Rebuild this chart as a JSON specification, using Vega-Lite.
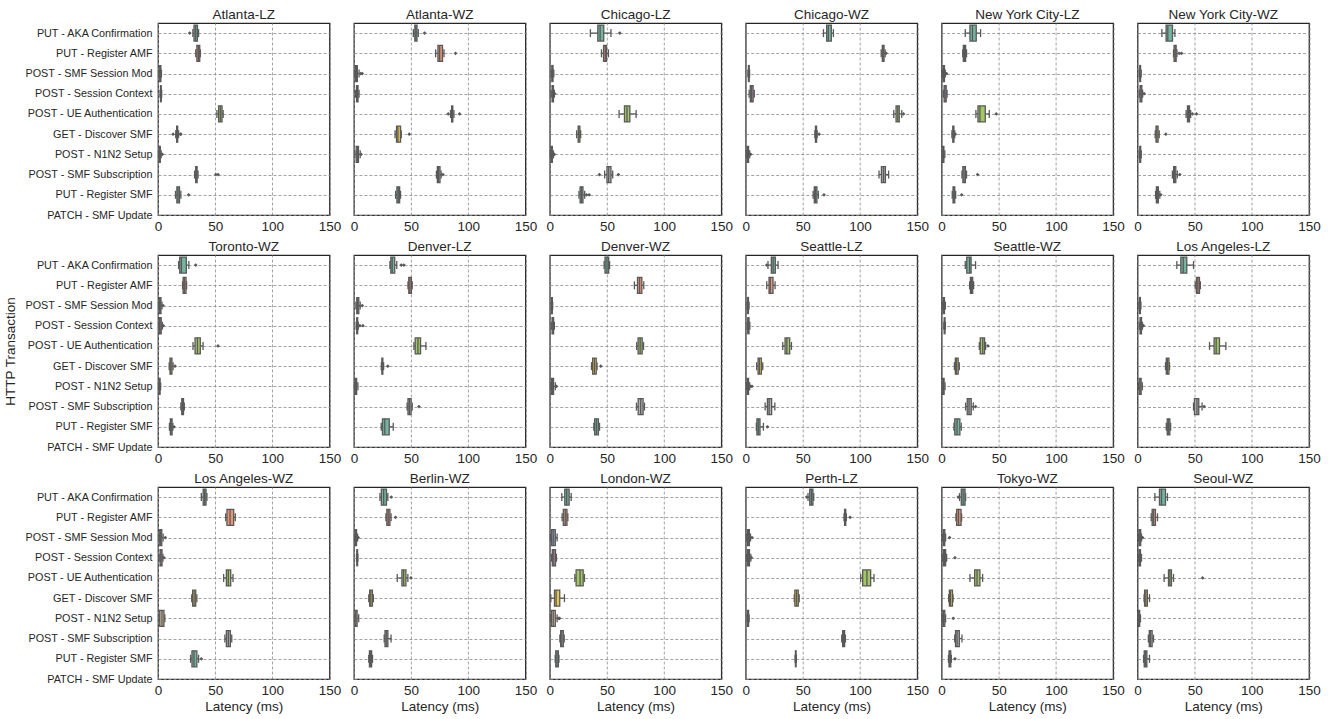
{
"$schema": "https://vega.github.io/schema/vega-lite/v6.json",
"padding": {"left": 3, "top": 7, "right": 5, "bottom": 5},
"spacing": 6,
"config": {
 "font": "Liberation Sans",
 "view": {"stroke": "#262626", "strokeWidth": 1.25},
 "axis": {"labelColor": "#262626", "titleColor": "#262626", "grid": true, "gridColor": "#8c8c8c", "gridDash": [3, 2], "gridWidth": 0.8, "ticks": false, "domain": false, "labelFont": "Liberation Sans", "titleFont": "Liberation Sans", "titleFontWeight": "normal", "titleFontSize": 13.5},
 "axisX": {"labelFontSize": 13.5, "labelFlush": false, "labelOverlap": false, "labelPadding": 3, "titlePadding": 3},
 "axisY": {"labelFontSize": 10.8, "labelPadding": 5, "labelLimit": 0, "titlePadding": 7},
 "header": {"labelFontSize": 13.5, "labelColor": "#262626", "labelFont": "Liberation Sans", "labelPadding": 1}
},
"datasets": {"boxes": [
{"p":"Atlanta-LZ","t":"PUT - AKA Confirmation","lo":30.5,"q1":31.5,"md":33,"q3":34.5,"hi":35.5,"out":[27.7]},
{"p":"Atlanta-LZ","t":"PUT - Register AMF","lo":33,"q1":34,"md":35.3,"q3":36.5,"hi":37},
{"p":"Atlanta-LZ","t":"POST - SMF Session Mod","lo":0.8,"q1":1.5,"md":2,"q3":2.5,"hi":3},
{"p":"Atlanta-LZ","t":"POST - Session Context","lo":1.8,"q1":2.2,"md":2.5,"q3":2.8,"hi":3.2},
{"p":"Atlanta-LZ","t":"POST - UE Authentication","lo":51.5,"q1":53,"md":54.5,"q3":56,"hi":57},
{"p":"Atlanta-LZ","t":"GET - Discover SMF","lo":15.5,"q1":16.3,"md":16.7,"q3":17.2,"hi":18,"out":[13.2,19.5,20]},
{"p":"Atlanta-LZ","t":"POST - N1N2 Setup","lo":0.5,"q1":1,"md":1.5,"q3":2,"hi":2.8,"out":[3.8]},
{"p":"Atlanta-LZ","t":"POST - SMF Subscription","lo":32,"q1":33,"md":33.6,"q3":34.2,"hi":35,"out":[50.6,52.6]},
{"p":"Atlanta-LZ","t":"PUT - Register SMF","lo":15.3,"q1":16.5,"md":17.5,"q3":18.8,"hi":20,"out":[26.8]},
{"p":"Atlanta-WZ","t":"PUT - AKA Confirmation","lo":52,"q1":53.3,"md":54.2,"q3":55.2,"hi":56.3,"out":[61.8]},
{"p":"Atlanta-WZ","t":"PUT - Register AMF","lo":71.5,"q1":73.5,"md":75,"q3":77.5,"hi":78.8,"out":[88.9]},
{"p":"Atlanta-WZ","t":"POST - SMF Session Mod","lo":0.8,"q1":1.5,"md":2.2,"q3":3,"hi":4.5,"out":[6,7.3]},
{"p":"Atlanta-WZ","t":"POST - Session Context","lo":1.5,"q1":2.3,"md":3,"q3":3.6,"hi":4.5},
{"p":"Atlanta-WZ","t":"POST - UE Authentication","lo":84.5,"q1":85.5,"md":86,"q3":86.5,"hi":87.5,"out":[82.5,92.4]},
{"p":"Atlanta-WZ","t":"GET - Discover SMF","lo":36,"q1":37.3,"md":38.5,"q3":40.8,"hi":41.4,"out":[48.4]},
{"p":"Atlanta-WZ","t":"POST - N1N2 Setup","lo":0.8,"q1":2,"md":3,"q3":4,"hi":5.5,"out":[6.3]},
{"p":"Atlanta-WZ","t":"POST - SMF Subscription","lo":72.2,"q1":73,"md":74,"q3":75.3,"hi":76.3,"out":[77.9]},
{"p":"Atlanta-WZ","t":"PUT - Register SMF","lo":36.5,"q1":37.6,"md":38.8,"q3":40,"hi":40.8},
{"p":"Chicago-LZ","t":"PUT - AKA Confirmation","lo":35.5,"q1":42,"md":44,"q3":47.2,"hi":53.5,"out":[61.2]},
{"p":"Chicago-LZ","t":"PUT - Register AMF","lo":45.2,"q1":47,"md":48.5,"q3":49.6,"hi":51.3},
{"p":"Chicago-LZ","t":"POST - SMF Session Mod","lo":1.2,"q1":1.8,"md":2.2,"q3":2.8,"hi":3.5},
{"p":"Chicago-LZ","t":"POST - Session Context","lo":1.2,"q1":2,"md":2.5,"q3":3.2,"hi":4,"out":[4.3]},
{"p":"Chicago-LZ","t":"POST - UE Authentication","lo":60.6,"q1":65.3,"md":67.5,"q3":70,"hi":75.5},
{"p":"Chicago-LZ","t":"GET - Discover SMF","lo":23.5,"q1":24.8,"md":25.5,"q3":26.3,"hi":27},
{"p":"Chicago-LZ","t":"POST - N1N2 Setup","lo":0.5,"q1":1,"md":1.6,"q3":2.2,"hi":3.2,"out":[4]},
{"p":"Chicago-LZ","t":"POST - SMF Subscription","lo":48,"q1":50,"md":51.5,"q3":53.5,"hi":55,"out":[43.4,60]},
{"p":"Chicago-LZ","t":"PUT - Register SMF","lo":25.5,"q1":26.5,"md":27.8,"q3":29,"hi":30.5,"out":[32,34.4]},
{"p":"Chicago-WZ","t":"PUT - AKA Confirmation","lo":68,"q1":70.8,"md":72.3,"q3":74.9,"hi":76.7},
{"p":"Chicago-WZ","t":"PUT - Register AMF","lo":118.5,"q1":119.5,"md":120.2,"q3":121,"hi":122,"out":[122.8]},
{"p":"Chicago-WZ","t":"POST - SMF Session Mod","lo":2,"q1":2.4,"md":2.7,"q3":3,"hi":3.4},
{"p":"Chicago-WZ","t":"POST - Session Context","lo":3,"q1":4,"md":5.2,"q3":6.5,"hi":7.5},
{"p":"Chicago-WZ","t":"POST - UE Authentication","lo":129.5,"q1":131.5,"md":133,"q3":134.3,"hi":136.5,"out":[138]},
{"p":"Chicago-WZ","t":"GET - Discover SMF","lo":60.5,"q1":61,"md":61.5,"q3":62,"hi":62.5,"out":[64.2]},
{"p":"Chicago-WZ","t":"POST - N1N2 Setup","lo":0.5,"q1":1.2,"md":1.8,"q3":2.5,"hi":3.5,"out":[4.4]},
{"p":"Chicago-WZ","t":"POST - SMF Subscription","lo":116.6,"q1":118.7,"md":120.5,"q3":122.2,"hi":125},
{"p":"Chicago-WZ","t":"PUT - Register SMF","lo":59,"q1":60,"md":61,"q3":62.3,"hi":63.5,"out":[68.5]},
{"p":"New York City-LZ","t":"PUT - AKA Confirmation","lo":20.7,"q1":24.8,"md":27,"q3":30.3,"hi":34.1},
{"p":"New York City-LZ","t":"PUT - Register AMF","lo":18.5,"q1":19,"md":20,"q3":21,"hi":21.8},
{"p":"New York City-LZ","t":"POST - SMF Session Mod","lo":0.8,"q1":1.3,"md":1.8,"q3":2.5,"hi":3.2,"out":[4.3]},
{"p":"New York City-LZ","t":"POST - Session Context","lo":1.5,"q1":2.2,"md":3,"q3":4,"hi":4.8},
{"p":"New York City-LZ","t":"POST - UE Authentication","lo":30,"q1":31.8,"md":33.5,"q3":38.2,"hi":41.7,"out":[47.8]},
{"p":"New York City-LZ","t":"GET - Discover SMF","lo":9,"q1":9.8,"md":10.2,"q3":10.8,"hi":11.5,"out":[12]},
{"p":"New York City-LZ","t":"POST - N1N2 Setup","lo":0.6,"q1":1,"md":1.5,"q3":2,"hi":2.8},
{"p":"New York City-LZ","t":"POST - SMF Subscription","lo":17.8,"q1":18.6,"md":19.6,"q3":20.8,"hi":21.8,"out":[31.5]},
{"p":"New York City-LZ","t":"PUT - Register SMF","lo":9.3,"q1":10,"md":10.8,"q3":11.5,"hi":12.3,"out":[17.5]},
{"p":"New York City-WZ","t":"PUT - AKA Confirmation","lo":21.3,"q1":25,"md":26.5,"q3":30.6,"hi":32.7},
{"p":"New York City-WZ","t":"PUT - Register AMF","lo":31.5,"q1":32,"md":33,"q3":33.8,"hi":34.5,"out":[36.4,38.5]},
{"p":"New York City-WZ","t":"POST - SMF Session Mod","lo":1.5,"q1":2,"md":2.3,"q3":2.7,"hi":3.2},
{"p":"New York City-WZ","t":"POST - Session Context","lo":1.5,"q1":2.2,"md":3,"q3":3.8,"hi":4.5,"out":[5.8]},
{"p":"New York City-WZ","t":"POST - UE Authentication","lo":42.5,"q1":43.7,"md":44.5,"q3":45.5,"hi":46.5,"out":[48,51.6]},
{"p":"New York City-WZ","t":"GET - Discover SMF","lo":15.5,"q1":16.2,"md":17,"q3":18,"hi":19,"out":[24.8]},
{"p":"New York City-WZ","t":"POST - N1N2 Setup","lo":1.5,"q1":2,"md":2.4,"q3":2.8,"hi":3.3},
{"p":"New York City-WZ","t":"POST - SMF Subscription","lo":30.5,"q1":31.6,"md":32.5,"q3":33.5,"hi":34.8,"out":[37]},
{"p":"New York City-WZ","t":"PUT - Register SMF","lo":15.8,"q1":16.5,"md":17.3,"q3":18.2,"hi":19.5,"out":[20.4]},
{"p":"Toronto-WZ","t":"PUT - AKA Confirmation","lo":18,"q1":19,"md":20.5,"q3":24.8,"hi":27,"out":[33]},
{"p":"Toronto-WZ","t":"PUT - Register AMF","lo":21.5,"q1":22,"md":23,"q3":24.5,"hi":25},
{"p":"Toronto-WZ","t":"POST - SMF Session Mod","lo":0.6,"q1":1.2,"md":1.8,"q3":2.6,"hi":3.5,"out":[4.4]},
{"p":"Toronto-WZ","t":"POST - Session Context","lo":0.6,"q1":1.2,"md":1.8,"q3":2.8,"hi":3.8,"out":[4.6]},
{"p":"Toronto-WZ","t":"POST - UE Authentication","lo":30.6,"q1":32.4,"md":34.5,"q3":37,"hi":39.4,"out":[52.5]},
{"p":"Toronto-WZ","t":"GET - Discover SMF","lo":9.8,"q1":10.5,"md":11.2,"q3":12.2,"hi":13.2,"out":[14.9]},
{"p":"Toronto-WZ","t":"POST - N1N2 Setup","lo":0.5,"q1":1,"md":1.3,"q3":1.8,"hi":2.3},
{"p":"Toronto-WZ","t":"POST - SMF Subscription","lo":20,"q1":20.8,"md":21.5,"q3":22.3,"hi":23},
{"p":"Toronto-WZ","t":"PUT - Register SMF","lo":10,"q1":10.8,"md":11.5,"q3":12.3,"hi":13,"out":[14]},
{"p":"Denver-LZ","t":"PUT - AKA Confirmation","lo":31.5,"q1":32.3,"md":33.5,"q3":35.7,"hi":37.5,"out":[41.4,43.7]},
{"p":"Denver-LZ","t":"PUT - Register AMF","lo":47.3,"q1":48,"md":49,"q3":50.3,"hi":51},
{"p":"Denver-LZ","t":"POST - SMF Session Mod","lo":1.8,"q1":2.5,"md":3.3,"q3":4.3,"hi":5.5,"out":[7.3]},
{"p":"Denver-LZ","t":"POST - Session Context","lo":2,"q1":2.5,"md":2.9,"q3":3.3,"hi":3.8,"out":[5.2,7.9]},
{"p":"Denver-LZ","t":"POST - UE Authentication","lo":52.5,"q1":53.6,"md":56,"q3":58.3,"hi":63},
{"p":"Denver-LZ","t":"GET - Discover SMF","lo":24,"q1":24.5,"md":24.9,"q3":25.3,"hi":26,"out":[29.7]},
{"p":"Denver-LZ","t":"POST - N1N2 Setup","lo":0.5,"q1":1,"md":1.6,"q3":2.4,"hi":3.5},
{"p":"Denver-LZ","t":"POST - SMF Subscription","lo":46.5,"q1":47.3,"md":48.5,"q3":50,"hi":51,"out":[56.9]},
{"p":"Denver-LZ","t":"PUT - Register SMF","lo":23.9,"q1":25,"md":27,"q3":30.9,"hi":34.4},
{"p":"Denver-WZ","t":"PUT - AKA Confirmation","lo":47.5,"q1":48.3,"md":50,"q3":51.5,"hi":52.3},
{"p":"Denver-WZ","t":"PUT - Register AMF","lo":74,"q1":76.7,"md":78.5,"q3":80.5,"hi":82.2},
{"p":"Denver-WZ","t":"POST - SMF Session Mod","lo":1.3,"q1":1.6,"md":1.9,"q3":2.2,"hi":2.5},
{"p":"Denver-WZ","t":"POST - Session Context","lo":1.3,"q1":2,"md":2.7,"q3":3.3,"hi":4},
{"p":"Denver-WZ","t":"POST - UE Authentication","lo":76,"q1":77.2,"md":79,"q3":80.8,"hi":82},
{"p":"Denver-WZ","t":"GET - Discover SMF","lo":36.5,"q1":37.5,"md":39,"q3":40.6,"hi":41.3,"out":[44.6]},
{"p":"Denver-WZ","t":"POST - N1N2 Setup","lo":0.8,"q1":1.5,"md":2.3,"q3":3.3,"hi":4.8,"out":[5.8]},
{"p":"Denver-WZ","t":"POST - SMF Subscription","lo":75.8,"q1":77.3,"md":79.5,"q3":81.6,"hi":82.8},
{"p":"Denver-WZ","t":"PUT - Register SMF","lo":38.5,"q1":39.2,"md":40.8,"q3":42.5,"hi":43.5},
{"p":"Seattle-LZ","t":"PUT - AKA Confirmation","lo":19.5,"q1":22.4,"md":24,"q3":25.9,"hi":28.3,"out":[18.4]},
{"p":"Seattle-LZ","t":"PUT - Register AMF","lo":18.4,"q1":20.4,"md":21.5,"q3":23.9,"hi":25.7},
{"p":"Seattle-LZ","t":"POST - SMF Session Mod","lo":1.2,"q1":1.6,"md":2,"q3":2.4,"hi":2.9},
{"p":"Seattle-LZ","t":"POST - Session Context","lo":1.3,"q1":1.8,"md":2.3,"q3":2.9,"hi":3.6},
{"p":"Seattle-LZ","t":"POST - UE Authentication","lo":32.4,"q1":34.4,"md":36,"q3":38.5,"hi":40},
{"p":"Seattle-LZ","t":"GET - Discover SMF","lo":9.6,"q1":10.8,"md":12,"q3":13.7,"hi":14.9},
{"p":"Seattle-LZ","t":"POST - N1N2 Setup","lo":0.8,"q1":1.3,"md":1.8,"q3":2.5,"hi":3.5,"out":[4.5,5.5]},
{"p":"Seattle-LZ","t":"POST - SMF Subscription","lo":17,"q1":19,"md":20.5,"q3":22.7,"hi":25.5},
{"p":"Seattle-LZ","t":"PUT - Register SMF","lo":9.3,"q1":9.8,"md":11,"q3":12.5,"hi":15.5,"out":[19]},
{"p":"Seattle-WZ","t":"PUT - AKA Confirmation","lo":20.7,"q1":22,"md":24.5,"q3":25.8,"hi":29.7},
{"p":"Seattle-WZ","t":"PUT - Register AMF","lo":24.5,"q1":25.2,"md":26.2,"q3":27.2,"hi":28},
{"p":"Seattle-WZ","t":"POST - SMF Session Mod","lo":0.8,"q1":1.3,"md":1.8,"q3":2.5,"hi":3.3},
{"p":"Seattle-WZ","t":"POST - Session Context","lo":2,"q1":2.3,"md":2.6,"q3":2.9,"hi":3.3},
{"p":"Seattle-WZ","t":"POST - UE Authentication","lo":33,"q1":33.8,"md":36,"q3":37.6,"hi":38.5,"out":[40.5]},
{"p":"Seattle-WZ","t":"GET - Discover SMF","lo":11.2,"q1":12,"md":13,"q3":14.5,"hi":15.5},
{"p":"Seattle-WZ","t":"POST - N1N2 Setup","lo":0.6,"q1":1,"md":1.5,"q3":2.2,"hi":3},
{"p":"Seattle-WZ","t":"POST - SMF Subscription","lo":21,"q1":22.4,"md":24,"q3":25.9,"hi":27.7,"out":[29.7]},
{"p":"Seattle-WZ","t":"PUT - Register SMF","lo":10.8,"q1":11.5,"md":13.5,"q3":16,"hi":17.2},
{"p":"Los Angeles-LZ","t":"PUT - AKA Confirmation","lo":34.4,"q1":37.9,"md":40,"q3":43.1,"hi":49},
{"p":"Los Angeles-LZ","t":"PUT - Register AMF","lo":50.5,"q1":51.6,"md":52.8,"q3":54.2,"hi":55},
{"p":"Los Angeles-LZ","t":"POST - SMF Session Mod","lo":1.3,"q1":1.7,"md":2.1,"q3":2.5,"hi":3},
{"p":"Los Angeles-LZ","t":"POST - Session Context","lo":1.5,"q1":2.2,"md":2.8,"q3":3.5,"hi":4.3,"out":[5.2]},
{"p":"Los Angeles-LZ","t":"POST - UE Authentication","lo":63,"q1":67,"md":68.8,"q3":71.7,"hi":77.3},
{"p":"Los Angeles-LZ","t":"GET - Discover SMF","lo":24.5,"q1":25.2,"md":26.2,"q3":27.5,"hi":28},
{"p":"Los Angeles-LZ","t":"POST - N1N2 Setup","lo":0.8,"q1":1.5,"md":2.3,"q3":3.2,"hi":4.2},
{"p":"Los Angeles-LZ","t":"POST - SMF Subscription","lo":49,"q1":49.8,"md":52,"q3":53.6,"hi":56.5,"out":[58.3]},
{"p":"Los Angeles-LZ","t":"PUT - Register SMF","lo":25.2,"q1":26,"md":27,"q3":28.3,"hi":29},
{"p":"Los Angeles-WZ","t":"PUT - AKA Confirmation","lo":37.9,"q1":39.5,"md":40.8,"q3":42,"hi":42.8},
{"p":"Los Angeles-WZ","t":"PUT - Register AMF","lo":59.2,"q1":60.3,"md":63,"q3":66.2,"hi":67.6},
{"p":"Los Angeles-WZ","t":"POST - SMF Session Mod","lo":0.8,"q1":1.5,"md":2.3,"q3":3.3,"hi":4.5,"out":[6.4]},
{"p":"Los Angeles-WZ","t":"POST - Session Context","lo":1,"q1":1.8,"md":2.6,"q3":3.5,"hi":4.3,"out":[5.2]},
{"p":"Los Angeles-WZ","t":"POST - UE Authentication","lo":57.4,"q1":59.8,"md":61.5,"q3":63.6,"hi":65.6},
{"p":"Los Angeles-WZ","t":"GET - Discover SMF","lo":29.5,"q1":30.3,"md":31.6,"q3":33,"hi":34},
{"p":"Los Angeles-WZ","t":"POST - N1N2 Setup","lo":1,"q1":1.5,"md":3.5,"q3":5.2,"hi":6},
{"p":"Los Angeles-WZ","t":"POST - SMF Subscription","lo":58.5,"q1":59.8,"md":61.5,"q3":63.3,"hi":64.5},
{"p":"Los Angeles-WZ","t":"PUT - Register SMF","lo":28.5,"q1":29.7,"md":31.5,"q3":34,"hi":35.5,"out":[37.9]},
{"p":"Berlin-WZ","t":"PUT - AKA Confirmation","lo":22.8,"q1":24,"md":26,"q3":28.5,"hi":29.7,"out":[32.7]},
{"p":"Berlin-WZ","t":"PUT - Register AMF","lo":28,"q1":28.8,"md":30,"q3":31.5,"hi":32.5,"out":[36.4]},
{"p":"Berlin-WZ","t":"POST - SMF Session Mod","lo":0.6,"q1":1,"md":1.6,"q3":2.3,"hi":3.2,"out":[3.8]},
{"p":"Berlin-WZ","t":"POST - Session Context","lo":2.3,"q1":2.6,"md":2.9,"q3":3.2,"hi":3.5},
{"p":"Berlin-WZ","t":"POST - UE Authentication","lo":37.9,"q1":42,"md":43.5,"q3":45.5,"hi":47.2,"out":[49.9]},
{"p":"Berlin-WZ","t":"GET - Discover SMF","lo":13,"q1":13.8,"md":14.8,"q3":16.2,"hi":17},
{"p":"Berlin-WZ","t":"POST - N1N2 Setup","lo":0.5,"q1":1,"md":1.8,"q3":2.8,"hi":4.2},
{"p":"Berlin-WZ","t":"POST - SMF Subscription","lo":26.5,"q1":27.2,"md":28.3,"q3":29.7,"hi":32.5},
{"p":"Berlin-WZ","t":"PUT - Register SMF","lo":13,"q1":13.6,"md":14.5,"q3":15.5,"hi":16.3},
{"p":"London-WZ","t":"PUT - AKA Confirmation","lo":10.5,"q1":13.1,"md":14.8,"q3":16.9,"hi":18.7},
{"p":"London-WZ","t":"PUT - Register AMF","lo":10.8,"q1":11.8,"md":13.5,"q3":15,"hi":15.8},
{"p":"London-WZ","t":"POST - SMF Session Mod","lo":0.6,"q1":1.5,"md":3,"q3":4.8,"hi":6.4},
{"p":"London-WZ","t":"POST - Session Context","lo":1.5,"q1":2.2,"md":3.5,"q3":5,"hi":5.8},
{"p":"London-WZ","t":"POST - UE Authentication","lo":21.9,"q1":23,"md":26.5,"q3":29.2,"hi":30.3},
{"p":"London-WZ","t":"GET - Discover SMF","lo":0.9,"q1":4.1,"md":5.5,"q3":8.7,"hi":12.8},
{"p":"London-WZ","t":"POST - N1N2 Setup","lo":0.6,"q1":1.5,"md":3,"q3":4.8,"hi":6.4,"out":[7.6,8.5]},
{"p":"London-WZ","t":"POST - SMF Subscription","lo":8.8,"q1":9.5,"md":10.5,"q3":11.8,"hi":12.6},
{"p":"London-WZ","t":"PUT - Register SMF","lo":4.7,"q1":5.2,"md":6.3,"q3":7.5,"hi":8},
{"p":"Perth-LZ","t":"PUT - AKA Confirmation","lo":54.5,"q1":56,"md":57.5,"q3":58.8,"hi":59.5,"out":[53.4]},
{"p":"Perth-LZ","t":"PUT - Register AMF","lo":86,"q1":86.5,"md":87,"q3":87.5,"hi":88,"out":[91.3]},
{"p":"Perth-LZ","t":"POST - SMF Session Mod","lo":0.8,"q1":1.5,"md":2.3,"q3":3.2,"hi":4.2,"out":[5.5]},
{"p":"Perth-LZ","t":"POST - Session Context","lo":0.8,"q1":1.5,"md":2.5,"q3":3.3,"hi":4.5,"out":[5]},
{"p":"Perth-LZ","t":"POST - UE Authentication","lo":100.6,"q1":102.3,"md":106,"q3":109.3,"hi":112.2},
{"p":"Perth-LZ","t":"GET - Discover SMF","lo":42.5,"q1":43,"md":44.5,"q3":46,"hi":46.8},
{"p":"Perth-LZ","t":"POST - N1N2 Setup","lo":1.2,"q1":1.6,"md":2,"q3":2.5,"hi":3},
{"p":"Perth-LZ","t":"POST - SMF Subscription","lo":84,"q1":84.8,"md":85.6,"q3":86.5,"hi":87.2},
{"p":"Perth-LZ","t":"PUT - Register SMF","lo":43.2,"q1":43.5,"md":43.7,"q3":44,"hi":44.3},
{"p":"Tokyo-WZ","t":"PUT - AKA Confirmation","lo":15.7,"q1":17.2,"md":18.8,"q3":20.5,"hi":21,"out":[14.6]},
{"p":"Tokyo-WZ","t":"PUT - Register AMF","lo":12.5,"q1":13.2,"md":14.8,"q3":17,"hi":17.5},
{"p":"Tokyo-WZ","t":"POST - SMF Session Mod","lo":1,"q1":1.5,"md":2,"q3":2.8,"hi":3.5,"out":[7]},
{"p":"Tokyo-WZ","t":"POST - Session Context","lo":1,"q1":1.6,"md":2.5,"q3":3.5,"hi":4.4,"out":[11.7]},
{"p":"Tokyo-WZ","t":"POST - UE Authentication","lo":24.8,"q1":28.9,"md":31,"q3":33.5,"hi":35.9},
{"p":"Tokyo-WZ","t":"GET - Discover SMF","lo":6.2,"q1":6.8,"md":7.8,"q3":9.5,"hi":10},
{"p":"Tokyo-WZ","t":"POST - N1N2 Setup","lo":0.8,"q1":1.2,"md":1.8,"q3":2.8,"hi":3.5,"out":[10.2]},
{"p":"Tokyo-WZ","t":"POST - SMF Subscription","lo":11.5,"q1":12.2,"md":13.5,"q3":15.5,"hi":17.8},
{"p":"Tokyo-WZ","t":"PUT - Register SMF","lo":6,"q1":6.5,"md":7.2,"q3":8,"hi":8.5,"out":[11.7]},
{"p":"Seoul-WZ","t":"PUT - AKA Confirmation","lo":15.2,"q1":19.2,"md":21,"q3":24.5,"hi":26.2},
{"p":"Seoul-WZ","t":"PUT - Register AMF","lo":12,"q1":12.8,"md":14,"q3":15.7,"hi":17.5},
{"p":"Seoul-WZ","t":"POST - SMF Session Mod","lo":0.8,"q1":1.3,"md":2,"q3":2.8,"hi":3.5,"out":[4.4]},
{"p":"Seoul-WZ","t":"POST - Session Context","lo":0.8,"q1":1.3,"md":1.9,"q3":2.6,"hi":3.5},
{"p":"Seoul-WZ","t":"POST - UE Authentication","lo":23.3,"q1":27.1,"md":28.3,"q3":29.7,"hi":31.5,"out":[56.9]},
{"p":"Seoul-WZ","t":"GET - Discover SMF","lo":5.8,"q1":6.2,"md":7.3,"q3":8.6,"hi":10.5},
{"p":"Seoul-WZ","t":"POST - N1N2 Setup","lo":0.5,"q1":0.9,"md":1.3,"q3":1.9,"hi":2.6},
{"p":"Seoul-WZ","t":"POST - SMF Subscription","lo":9.5,"q1":10.3,"md":11.3,"q3":12.8,"hi":14},
{"p":"Seoul-WZ","t":"PUT - Register SMF","lo":5.3,"q1":5.9,"md":7,"q3":8.2,"hi":10.5}
]},
"vconcat": [
{
 "data": {"name": "boxes"},
 "transform": [{"filter": {"field": "p", "oneOf": ["Atlanta-LZ","Atlanta-WZ","Chicago-LZ","Chicago-WZ","New York City-LZ","New York City-WZ"]}}],
 "facet": {"column": {"field": "p", "type": "nominal", "sort": ["Atlanta-LZ","Atlanta-WZ","Chicago-LZ","Chicago-WZ","New York City-LZ","New York City-WZ"], "header": {"title": null}}},
 "spacing": 21.9,
 "spec": {
  "width": 171.5, "height": 192,
  "encoding": {"y": {"field": "t", "type": "nominal", "scale": {"type": "point", "domain": ["PUT - AKA Confirmation","PUT - Register AMF","POST - SMF Session Mod","POST - Session Context","POST - UE Authentication","GET - Discover SMF","POST - N1N2 Setup","POST - SMF Subscription","PUT - Register SMF","PATCH - SMF Update"], "padding": 0.25, "align": 1}, "axis": {"title": "HTTP Transaction", "titleOpacity": 0}}},
  "layer": [
   {"mark": {"type": "rule", "color": "#595959", "strokeWidth": 1.3}, "encoding": {"x": {"field": "lo", "type": "quantitative", "scale": {"domain": [0, 150], "nice": false}, "axis": {"values": [0, 50, 100, 150]}, "title": null}, "x2": {"field": "hi"}}},
   {"mark": {"type": "tick", "color": "#595959", "thickness": 1.3, "size": 8, "opacity": 1}, "encoding": {"x": {"field": "lo", "type": "quantitative", "title": null}}},
   {"mark": {"type": "tick", "color": "#595959", "thickness": 1.3, "size": 8, "opacity": 1}, "encoding": {"x": {"field": "hi", "type": "quantitative", "title": null}}},
   {"mark": {"type": "bar", "height": 16, "stroke": "#595959", "strokeWidth": 1.3}, "encoding": {"x": {"field": "q1", "type": "quantitative", "title": null}, "x2": {"field": "q3"}, "fill": {"field": "t", "type": "nominal", "scale": {"domain": ["PUT - AKA Confirmation","PUT - Register AMF","POST - SMF Session Mod","POST - Session Context","POST - UE Authentication","GET - Discover SMF","POST - N1N2 Setup","POST - SMF Subscription","PUT - Register SMF","PATCH - SMF Update"], "range": ["#72b6a1","#e99675","#95a3c3","#db96c0","#a2c865","#e5c849","#dbc29e","#b3b3b3","#72b6a1","#e99675"]}, "legend": null}}},
   {"mark": {"type": "tick", "color": "#595959", "thickness": 1.3, "size": 16, "opacity": 1}, "encoding": {"x": {"field": "md", "type": "quantitative", "title": null}}},
   {"transform": [{"filter": "isArray(datum.out)"}, {"flatten": ["out"]}], "mark": {"type": "point", "shape": "diamond", "filled": true, "color": "#595959", "size": 14, "opacity": 1}, "encoding": {"x": {"field": "out", "type": "quantitative", "title": null}}}
  ]
 }
},
{
 "data": {"name": "boxes"},
 "transform": [{"filter": {"field": "p", "oneOf": ["Toronto-WZ","Denver-LZ","Denver-WZ","Seattle-LZ","Seattle-WZ","Los Angeles-LZ"]}}],
 "facet": {"column": {"field": "p", "type": "nominal", "sort": ["Toronto-WZ","Denver-LZ","Denver-WZ","Seattle-LZ","Seattle-WZ","Los Angeles-LZ"], "header": {"title": null}}},
 "spacing": 21.9,
 "spec": {
  "width": 171.5, "height": 192,
  "encoding": {"y": {"field": "t", "type": "nominal", "scale": {"type": "point", "domain": ["PUT - AKA Confirmation","PUT - Register AMF","POST - SMF Session Mod","POST - Session Context","POST - UE Authentication","GET - Discover SMF","POST - N1N2 Setup","POST - SMF Subscription","PUT - Register SMF","PATCH - SMF Update"], "padding": 0.25, "align": 1}, "axis": {"title": "HTTP Transaction"}}},
  "layer": [
   {"mark": {"type": "rule", "color": "#595959", "strokeWidth": 1.3}, "encoding": {"x": {"field": "lo", "type": "quantitative", "scale": {"domain": [0, 150], "nice": false}, "axis": {"values": [0, 50, 100, 150]}, "title": null}, "x2": {"field": "hi"}}},
   {"mark": {"type": "tick", "color": "#595959", "thickness": 1.3, "size": 8, "opacity": 1}, "encoding": {"x": {"field": "lo", "type": "quantitative", "title": null}}},
   {"mark": {"type": "tick", "color": "#595959", "thickness": 1.3, "size": 8, "opacity": 1}, "encoding": {"x": {"field": "hi", "type": "quantitative", "title": null}}},
   {"mark": {"type": "bar", "height": 16, "stroke": "#595959", "strokeWidth": 1.3}, "encoding": {"x": {"field": "q1", "type": "quantitative", "title": null}, "x2": {"field": "q3"}, "fill": {"field": "t", "type": "nominal", "scale": {"domain": ["PUT - AKA Confirmation","PUT - Register AMF","POST - SMF Session Mod","POST - Session Context","POST - UE Authentication","GET - Discover SMF","POST - N1N2 Setup","POST - SMF Subscription","PUT - Register SMF","PATCH - SMF Update"], "range": ["#72b6a1","#e99675","#95a3c3","#db96c0","#a2c865","#e5c849","#dbc29e","#b3b3b3","#72b6a1","#e99675"]}, "legend": null}}},
   {"mark": {"type": "tick", "color": "#595959", "thickness": 1.3, "size": 16, "opacity": 1}, "encoding": {"x": {"field": "md", "type": "quantitative", "title": null}}},
   {"transform": [{"filter": "isArray(datum.out)"}, {"flatten": ["out"]}], "mark": {"type": "point", "shape": "diamond", "filled": true, "color": "#595959", "size": 14, "opacity": 1}, "encoding": {"x": {"field": "out", "type": "quantitative", "title": null}}}
  ]
 }
},
{
 "data": {"name": "boxes"},
 "transform": [{"filter": {"field": "p", "oneOf": ["Los Angeles-WZ","Berlin-WZ","London-WZ","Perth-LZ","Tokyo-WZ","Seoul-WZ"]}}],
 "facet": {"column": {"field": "p", "type": "nominal", "sort": ["Los Angeles-WZ","Berlin-WZ","London-WZ","Perth-LZ","Tokyo-WZ","Seoul-WZ"], "header": {"title": null}}},
 "spacing": 21.9,
 "spec": {
  "width": 171.5, "height": 192,
  "encoding": {"y": {"field": "t", "type": "nominal", "scale": {"type": "point", "domain": ["PUT - AKA Confirmation","PUT - Register AMF","POST - SMF Session Mod","POST - Session Context","POST - UE Authentication","GET - Discover SMF","POST - N1N2 Setup","POST - SMF Subscription","PUT - Register SMF","PATCH - SMF Update"], "padding": 0.25, "align": 1}, "axis": {"title": "HTTP Transaction", "titleOpacity": 0}}},
  "layer": [
   {"mark": {"type": "rule", "color": "#595959", "strokeWidth": 1.3}, "encoding": {"x": {"field": "lo", "type": "quantitative", "scale": {"domain": [0, 150], "nice": false}, "axis": {"values": [0, 50, 100, 150]}, "title": "Latency (ms)"}, "x2": {"field": "hi"}}},
   {"mark": {"type": "tick", "color": "#595959", "thickness": 1.3, "size": 8, "opacity": 1}, "encoding": {"x": {"field": "lo", "type": "quantitative", "title": "Latency (ms)"}}},
   {"mark": {"type": "tick", "color": "#595959", "thickness": 1.3, "size": 8, "opacity": 1}, "encoding": {"x": {"field": "hi", "type": "quantitative", "title": "Latency (ms)"}}},
   {"mark": {"type": "bar", "height": 16, "stroke": "#595959", "strokeWidth": 1.3}, "encoding": {"x": {"field": "q1", "type": "quantitative", "title": "Latency (ms)"}, "x2": {"field": "q3"}, "fill": {"field": "t", "type": "nominal", "scale": {"domain": ["PUT - AKA Confirmation","PUT - Register AMF","POST - SMF Session Mod","POST - Session Context","POST - UE Authentication","GET - Discover SMF","POST - N1N2 Setup","POST - SMF Subscription","PUT - Register SMF","PATCH - SMF Update"], "range": ["#72b6a1","#e99675","#95a3c3","#db96c0","#a2c865","#e5c849","#dbc29e","#b3b3b3","#72b6a1","#e99675"]}, "legend": null}}},
   {"mark": {"type": "tick", "color": "#595959", "thickness": 1.3, "size": 16, "opacity": 1}, "encoding": {"x": {"field": "md", "type": "quantitative", "title": "Latency (ms)"}}},
   {"transform": [{"filter": "isArray(datum.out)"}, {"flatten": ["out"]}], "mark": {"type": "point", "shape": "diamond", "filled": true, "color": "#595959", "size": 14, "opacity": 1}, "encoding": {"x": {"field": "out", "type": "quantitative", "title": "Latency (ms)"}}}
  ]
 }
}
]
}
